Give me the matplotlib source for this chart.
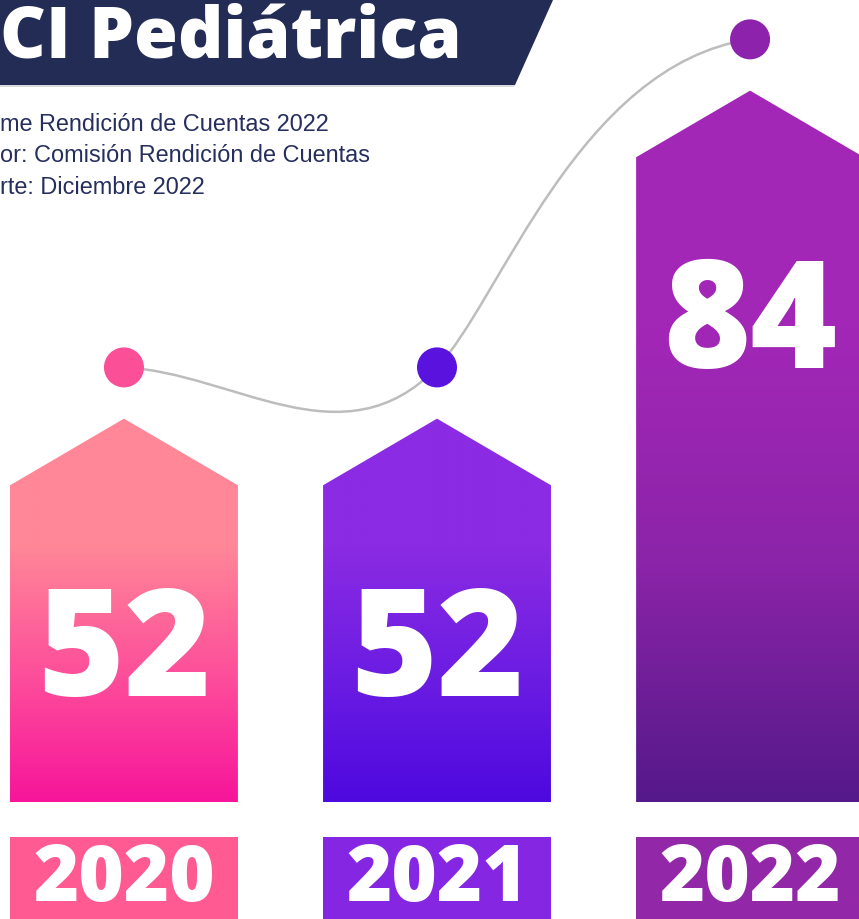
import numpy as np
import matplotlib
matplotlib.use("Agg")
import matplotlib.pyplot as plt
from matplotlib import font_manager as fm
from matplotlib.colors import LinearSegmentedColormap
from matplotlib.patches import Polygon, PathPatch
from matplotlib.path import Path
from matplotlib.textpath import TextPath

# data
years = ["2020", "2021", "2022"]
values = [52, 52, 84]

title = "CI Pediátrica"
subtitle_lines = [
    "me Rendición de Cuentas 2022",
    "or: Comisión Rendición de Cuentas",
    "rte: Diciembre 2022",
]

# colours (bottom -> middle -> top of each bar)
bar_bottom_colors = ["#f7159a", "#4e09df", "#55198a"]
bar_mid_colors = ["#fd4f9b", "#6c1de2", "#8b24a8"]
bar_top_colors = ["#ff8797", "#8b2be3", "#a327b7"]
year_box_colors = ["#ff5b92", "#8426e2", "#9227a8"]
dot_colors = ["#fb4f97", "#5a12df", "#8d23ad"]
navy = "#222c55"
curve_color = "#bdbdbd"


def pick_heavy_font():
    # first family that has a bold-or-heavier face, heaviest face of it
    for name in ["Open Sans", "Lato", "Inter", "Roboto", "Noto Sans"]:
        best = None
        for f in fm.fontManager.ttflist:
            if f.name != name or f.style != "normal":
                continue
            w = f.weight if isinstance(f.weight, int) else fm.weight_dict.get(f.weight, 400)
            if w >= 700 and (best is None or w > best[0]):
                best = (w, f.fname)
        if best is not None:
            return fm.FontProperties(fname=best[1])
    return fm.FontProperties(family="DejaVu Sans", weight="bold")


heavy = pick_heavy_font()


def fit_size(text, w_px, h_px):
    # font size (pt, at dpi 100) that splits the difference between
    # matching the ink width and the ink height seen in the reference
    ext = TextPath((0, 0), text, size=1, prop=heavy).get_extents()
    s_w = w_px / ext.width * 0.72
    s_h = h_px / ext.height * 0.72
    return np.sqrt(s_w * s_h)


W, H = 859, 919
fig = plt.figure(figsize=(W / 100, H / 100), dpi=100)
ax = fig.add_axes([0, 0, 1, 1])

x = np.arange(len(values))
vals = np.array(values, dtype=float)

base = 21.1        # truncated axis floor of the bars
bar_w = 0.728
peak_h = 6.5       # arrow tip above bar top
dot_off = 11.5
label_off = 20.6
box_gap = 3.4
ylo, yhi = 9.69, 99.34

num_size = fit_size("52", 168, 105)
year_size = fit_size("2020", 194, 52)
title_size = fit_size(title, 486, 52)

# bars as arrow shapes with vertical gradient
grad = np.linspace(0, 1, 256).reshape(-1, 1)
for i, v in enumerate(vals):
    x0, x1 = x[i] - bar_w / 2, x[i] + bar_w / 2
    verts = [(x0, base), (x0, v), (x[i], v + peak_h), (x1, v), (x1, base)]
    poly = Polygon(verts, closed=True, facecolor="none", edgecolor="none")
    ax.add_patch(poly)
    cmap = LinearSegmentedColormap.from_list(
        "g%d" % i, [bar_bottom_colors[i], bar_mid_colors[i], bar_top_colors[i], bar_top_colors[i]])
    im = ax.imshow(grad, extent=(x0, x1, base, v + peak_h), origin="lower",
                   cmap=cmap, aspect="auto", zorder=2, interpolation="bilinear")
    im.set_clip_path(poly)
    ax.text(x[i], v - label_off, "%d" % v, fontproperties=heavy, fontsize=num_size,
            color="white", ha="center", va="baseline", zorder=4)

# year boxes under the bars
ax.bar(x, (base - box_gap) - (ylo - 1), bottom=ylo - 1, width=bar_w,
       color=year_box_colors, zorder=2)
for i, yr in enumerate(years):
    ax.text(x[i], base - 9.66, yr, fontproperties=heavy, fontsize=year_size,
            color="white", ha="center", va="baseline", zorder=4)

# connecting curve through the dots
dy = vals + dot_off
p = list(zip(x.astype(float), dy))
h1 = [(0.35, -0.5), (-0.3, -9.5)]
h2 = [(0.2, 6.3), (-0.55, -2.5)]
verts = [p[0],
         (p[0][0] + h1[0][0], p[0][1] + h1[0][1]),
         (p[1][0] + h1[1][0], p[1][1] + h1[1][1]),
         p[1],
         (p[1][0] + h2[0][0], p[1][1] + h2[0][1]),
         (p[2][0] + h2[1][0], p[2][1] + h2[1][1]),
         p[2]]
codes = [Path.MOVETO] + [Path.CURVE4] * 6
ax.add_patch(PathPatch(Path(verts, codes), facecolor="none",
                       edgecolor=curve_color, lw=1.8, zorder=3))
ax.scatter(x, dy, s=830, c=dot_colors, linewidths=0, zorder=5)

ax.set_xlim(-0.396, 2.348)
ax.set_ylim(ylo, yhi)
ax.axis("off")

# header banner with a faint shadow line under it
shadow = Polygon([(0, 1 - 85 / H), (515 / W, 1 - 85 / H), (514 / W, 1 - 87 / H), (0, 1 - 87 / H)],
                 closed=True, transform=fig.transFigure, facecolor="#d9d9de",
                 edgecolor="none", zorder=1)
fig.patches.append(shadow)
banner = Polygon([(0, 1), (553 / W, 1), (515 / W, 1 - 85 / H), (0, 1 - 85 / H)],
                 closed=True, transform=fig.transFigure, facecolor=navy,
                 edgecolor="none", zorder=1)
fig.patches.append(banner)
fig.text(0, 1 - 58 / H, title, fontproperties=heavy, fontsize=title_size,
         color="white", va="baseline")

for j, line in enumerate(subtitle_lines):
    fig.text(0, 1 - (131 + 31.5 * j) / H, line, family="Liberation Sans",
             fontsize=16.9, color="#262e5e", va="baseline")

fig.savefig("out.png", dpi=100, facecolor="white")
